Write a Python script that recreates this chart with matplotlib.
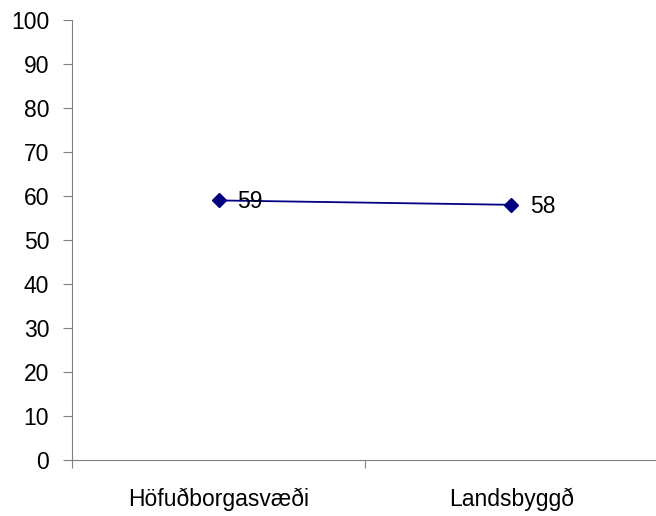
import matplotlib
matplotlib.use("Agg")
import matplotlib.pyplot as plt

categories = ["Höfuðborgasvæði", "Landsbyggð"]
values = [59, 58]
yticks = list(range(0, 101, 10))

plt.rcParams['font.family'] = ['Liberation Sans', 'DejaVu Sans']

fig = plt.figure(figsize=(6.56, 5.16), dpi=100)
ax = fig.add_axes([0.1098, 0.1085, 0.8932, 0.8527])

x = [i + 0.5 for i in range(len(categories))]
ax.plot(x, values, color='#000080', marker='D', markersize=7.5, linewidth=1.3)
for xi, v in zip(x, values):
    ax.annotate(str(v), (xi, v), xytext=(13.5, -1), textcoords='offset points',
                va='center', ha='left', fontsize=16.5)

ax.set_xlim(0, len(categories))
ax.set_ylim(0, 100)
ax.set_yticks(yticks)
ax.set_xticks(range(len(categories) + 1))
ax.set_xticklabels([])
ax.set_xticks(x, minor=True)
ax.set_xticklabels(categories, minor=True)
ax.tick_params(axis='x', which='minor', length=0, pad=20, labelsize=16.5)
ax.tick_params(axis='x', which='major', length=6, color='#808080')
ax.tick_params(axis='y', length=6.5, color='#808080', labelsize=16.5, pad=10)

for s in ['top', 'right']:
    ax.spines[s].set_visible(False)
for s in ['left', 'bottom']:
    ax.spines[s].set_color('#808080')

fig.savefig('out.png', dpi=100)
